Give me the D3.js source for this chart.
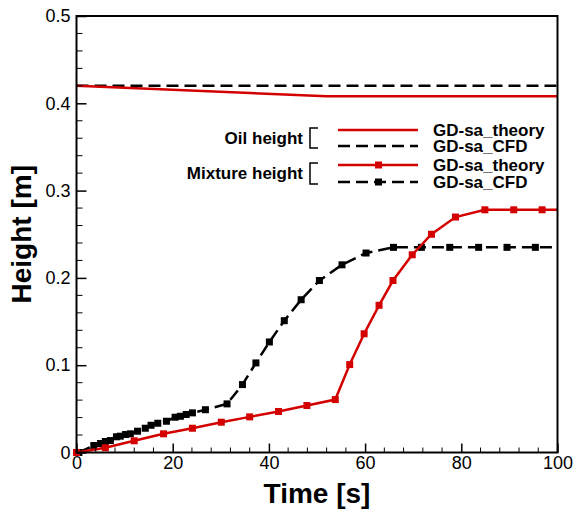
<!DOCTYPE html>
<html>
<head>
<meta charset="utf-8">
<script src="https://cdn.jsdelivr.net/npm/d3@7"></script>
<style>
  body { margin: 0; background: #fff; font-family: Arial, "Liberation Sans", sans-serif; }
  svg { display: block; }
</style>
</head>
<body>
<svg id="chart" width="576" height="512"></svg>
<script>
// oil height, theory and CFD
var oilTheoryT = [0, 52, 100];
var oilTheoryH = [0.42, 0.408, 0.408];
var oilCfdT = [0, 100];
var oilCfdH = [0.42, 0.42];

// mixture height, theory (markers)
var mixTheoryT = [0, 6, 12, 18.1, 24.1, 30.1, 36, 42, 47.9, 53.8, 56.8, 59.8, 62.9, 65.8, 69.8, 73.8, 78.8, 84.9, 90.9, 96.8, 100];
var mixTheoryH = [0, 0.0054, 0.0134, 0.0214, 0.0278, 0.0347, 0.0408, 0.047, 0.0538, 0.0606, 0.1007, 0.136, 0.1686, 0.197, 0.2265, 0.25, 0.2697, 0.278, 0.278, 0.278, 0.278];
var mixTheoryMarked = 20; // last point has no marker

// mixture height, CFD (markers)
var mixCfdT = [0.5, 3.6, 5, 6, 7.05, 8.3, 9.1, 10.2, 11.2, 12.7, 14.3, 15.5, 16.9, 18.7, 20.5, 21.6, 22.8, 24.1, 26.8, 31.3, 34.5, 37.3, 40.1, 43.2, 46.7, 50.5, 55.2, 60.2, 65.9, 71.7, 77.6, 83.6, 89.5, 95.4, 100];
var mixCfdH = [0, 0.008, 0.0103, 0.0126, 0.0137, 0.018, 0.0187, 0.0206, 0.0214, 0.0244, 0.0278, 0.0312, 0.0335, 0.0358, 0.0404, 0.0415, 0.0435, 0.0454, 0.049, 0.0557, 0.0778, 0.1026, 0.1266, 0.151, 0.175, 0.197, 0.215, 0.2285, 0.235, 0.235, 0.235, 0.235, 0.235, 0.235, 0.235];

var xTicks = [0, 20, 40, 60, 80, 100];
var yTicks = [0, 0.1, 0.2, 0.3, 0.4, 0.5];
var yTickLabels = ["0", "0.1", "0.2", "0.3", "0.4", "0.5"];

var legendGroups = ["Oil height", "Mixture height"];
var legendLabels = ["GD-sa_theory", "GD-sa_CFD", "GD-sa_theory", "GD-sa_CFD"];

var RED = "#d40000";
var svg = d3.select("#chart");
var pL = 76.5, pR = 557.5, pT = 16, pB = 452.5;

var x = d3.scaleLinear().domain([0, 100]).range([pL, pR]);
var y = d3.scaleLinear().domain([0, 0.5]).range([pB, pT]);

function zip(ts, hs) { return ts.map(function(t, i) { return [t, hs[i]]; }); }

var line = d3.line().x(function(d) { return x(d[0]); }).y(function(d) { return y(d[1]); });

// clip
svg.append("clipPath").attr("id", "clip").append("rect")
  .attr("x", pL - 4).attr("y", pT).attr("width", pR - pL + 4).attr("height", pB - pT + 4);

var plot = svg.append("g").attr("clip-path", "url(#clip)");

plot.append("path").datum(zip(oilCfdT, oilCfdH))
  .attr("d", line).attr("fill", "none").attr("stroke", "#000")
  .attr("stroke-width", 2.5).attr("stroke-dasharray", "12,6");
plot.append("path").datum(zip(oilTheoryT, oilTheoryH))
  .attr("d", line).attr("fill", "none").attr("stroke", RED).attr("stroke-width", 2.5);

var cfdData = zip(mixCfdT, mixCfdH);
plot.append("path").datum(cfdData)
  .attr("d", line).attr("fill", "none").attr("stroke", "#000")
  .attr("stroke-width", 2.5).attr("stroke-dasharray", "12,6");
plot.selectAll(".mcfd").data(cfdData.slice(0, cfdData.length - 1)).enter().append("rect")
  .attr("x", function(d) { return x(d[0]) - 3.5; })
  .attr("y", function(d) { return y(d[1]) - 3.5; })
  .attr("width", 7).attr("height", 7).attr("fill", "#000");

var thData = zip(mixTheoryT, mixTheoryH);
plot.append("path").datum(thData)
  .attr("d", line).attr("fill", "none").attr("stroke", RED).attr("stroke-width", 2.5);
plot.selectAll(".mth").data(thData.slice(0, mixTheoryMarked)).enter().append("rect")
  .attr("x", function(d) { return x(d[0]) - 3.5; })
  .attr("y", function(d) { return y(d[1]) - 3.5; })
  .attr("width", 7).attr("height", 7).attr("fill", RED);

// axes: ticks inward
var xAxis = d3.axisBottom(x).tickValues(xTicks).tickSize(-9).tickPadding(4).tickFormat(d3.format("d"));
var gx = svg.append("g").attr("transform", "translate(0," + pB + ")").call(xAxis);
var xMinor = d3.range(0, 101, 4).filter(function(v) { return v % 20 !== 0; });
gx.selectAll(".minor").data(xMinor).enter().append("line")
  .attr("x1", function(d) { return x(d); }).attr("x2", function(d) { return x(d); })
  .attr("y1", 0).attr("y2", -5).attr("stroke", "#000").attr("stroke-width", 1);

var yAxis = d3.axisLeft(y).tickValues(yTicks).tickSize(-10).tickPadding(6)
  .tickFormat(function(d, i) { return yTickLabels[i]; });
var gy = svg.append("g").attr("transform", "translate(" + pL + ",0)").call(yAxis);
var yMinor = d3.range(0, 51, 2).filter(function(v) { return v % 10 !== 0; }).map(function(v) { return v / 100; });
gy.selectAll(".minor").data(yMinor).enter().append("line")
  .attr("x1", 0).attr("x2", 6)
  .attr("y1", function(d) { return y(d); }).attr("y2", function(d) { return y(d); })
  .attr("stroke", "#000").attr("stroke-width", 1);

[gx, gy].forEach(function(g) {
  g.select(".domain").remove();
  g.selectAll(".tick line").attr("stroke-width", 1.5);
  g.selectAll("text").attr("font-size", 18).attr("fill", "#000")
    .attr("font-family", "Arial, 'Liberation Sans', sans-serif");
});
gx.selectAll(".tick text").attr("dy", "0.71em");

// frame
svg.append("rect").attr("x", pL).attr("y", pT)
  .attr("width", pR - pL).attr("height", pB - pT)
  .attr("fill", "none").attr("stroke", "#000").attr("stroke-width", 2);

// axis titles
svg.append("text").attr("x", (pL + pR) / 2).attr("y", 503)
  .attr("text-anchor", "middle").attr("font-size", 28).attr("font-weight", "bold")
  .text("Time [s]");
svg.append("text").attr("transform", "translate(31," + (pT + pB) / 2 + ") rotate(-90)")
  .attr("text-anchor", "middle").attr("font-size", 28).attr("font-weight", "bold")
  .text("Height [m]");

// legend
var legendRows = [130, 146, 165, 182];
var lg = svg.append("g").attr("font-weight", "bold").attr("font-size", 17);
legendGroups.forEach(function(name, i) {
  var y1 = legendRows[i * 2] - 2, y2 = legendRows[i * 2 + 1] + 2;
  lg.append("text").attr("x", 303).attr("y", (y1 + y2) / 2).attr("dy", "0.35em")
    .attr("text-anchor", "end").text(name);
  lg.append("path").attr("d", "M318," + y1 + "H310V" + y2 + "H318")
    .attr("fill", "none").attr("stroke", "#000").attr("stroke-width", 1.5);
});
legendLabels.forEach(function(lab, i) {
  var ly = legendRows[i];
  var col = i % 2 === 0 ? RED : "#000";
  lg.append("line").attr("x1", 338).attr("x2", 418).attr("y1", ly).attr("y2", ly)
    .attr("stroke", col).attr("stroke-width", 2.5)
    .attr("stroke-dasharray", i % 2 === 0 ? null : "12,6");
  if (i >= 2) {
    lg.append("rect").attr("x", 375).attr("y", ly - 3.5).attr("width", 7).attr("height", 7).attr("fill", col);
  }
  lg.append("text").attr("x", 433).attr("y", ly).attr("dy", "0.35em").text(lab);
});
</script>
</body>
</html>
